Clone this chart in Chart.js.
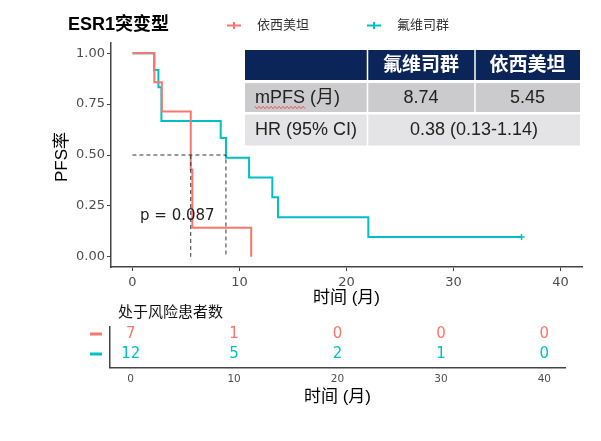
<!DOCTYPE html>
<html>
<head>
<meta charset="utf-8">
<script src="https://cdn.jsdelivr.net/npm/chart.js@4.4.1/dist/chart.umd.min.js"></script>
<style>
  html, body { margin: 0; padding: 0; background: #fff; }
  #wrap { position: relative; width: 601px; height: 441px; }
  canvas { position: absolute; left: 0; top: 0; }
</style>
</head>
<body>
<div id="wrap">
  <canvas id="km" width="601" height="441"></canvas>
  <canvas id="risk" width="601" height="441"></canvas>
</div>
<script>
// KM curves (time in months, survival probability)
const redTime = [0, 2.05, 2.75, 5.45, 5.6, 11.1];
const redSurv = [1, 0.857, 0.714, 0.429, 0.143, 0];
const cyanTime = [0, 2.03, 2.43, 2.71, 8.25, 8.74, 10.9, 13.07, 13.6, 22.04, 36.35];
const cyanSurv = [1, 0.917, 0.833, 0.667, 0.583, 0.486, 0.389, 0.292, 0.194, 0.097, 0.097];
const cyanCensorTime = [36.35];
const cyanCensorSurv = [0.097];
const medianTimes = [5.45, 8.74];
const xTicks = [0, 10, 20, 30, 40];
const yTicks = [0, 0.25, 0.5, 0.75, 1];

// number at risk
const riskTimes = [0, 10, 20, 30, 40];
const riskRed = [7, 1, 0, 0, 0];
const riskCyan = [12, 5, 2, 1, 0];

const RED = "#F8766D";
const CYAN = "#00BFC4";
const AXIS = "#444444";
const CJK = '"Liberation Sans", "Noto Sans CJK SC", sans-serif';

function pts(xs, ys) {
  return xs.map((x, i) => ({ x: x, y: ys[i] }));
}

function txt(ctx, s, x, y, font, color, align) {
  ctx.save();
  ctx.font = font;
  ctx.fillStyle = color;
  ctx.textAlign = align || "left";
  ctx.textBaseline = "middle";
  ctx.fillText(s, x, y);
  ctx.restore();
}

// median reference lines: horizontal at 0.5, then drops at each median
const medianLine = [{ x: 0, y: 0.5 }, { x: medianTimes[1], y: 0.5 }, { x: medianTimes[1], y: 0 },
  { x: medianTimes[1], y: null }, { x: medianTimes[0], y: 0.5 }, { x: medianTimes[0], y: 0 }];

const kmDecor = {
  id: "kmDecor",
  afterDraw(chart) {
    const ctx = chart.ctx;
    const xs = chart.scales.x, ys = chart.scales.y;

    // title + legend
    txt(ctx, "ESR1突变型", 68, 25, "bold 18px " + CJK, "#000");
    [[RED, 227, "依西美坦"], [CYAN, 367, "氟维司群"]].forEach(([c, lx, label]) => {
      ctx.save();
      ctx.strokeStyle = c;
      ctx.lineWidth = 2;
      ctx.beginPath();
      ctx.moveTo(lx, 25.5); ctx.lineTo(lx + 14, 25.5);
      ctx.moveTo(lx + 7, 22); ctx.lineTo(lx + 7, 29);
      ctx.stroke();
      ctx.restore();
      txt(ctx, label, lx + 30, 25.5, "13px " + CJK, "#333");
    });

    // axis titles
    txt(ctx, "时间 (月)", (chart.chartArea.left + chart.chartArea.right) / 2, 298, "17px " + CJK, "#000", "center");
    ctx.save();
    ctx.translate(62, 157);
    ctx.rotate(-Math.PI / 2);
    txt(ctx, "PFS率", 0, 0, "17px " + CJK, "#000", "center");
    ctx.restore();

    // p value
    txt(ctx, "p = 0.087", xs.getPixelForValue(4.2), ys.getPixelForValue(0.2), "15px 'DejaVu Sans'", "#222", "center");

    // summary table
    ctx.save();
    ctx.fillStyle = "#0B2559";
    ctx.fillRect(245, 50, 335, 30);
    ctx.fillStyle = "#CBCBCD";
    ctx.fillRect(245, 83, 335, 29);
    ctx.fillStyle = "#E4E4E6";
    ctx.fillRect(245, 114.5, 335, 31);
    ctx.strokeStyle = "#fff";
    ctx.lineWidth = 1.5;
    ctx.beginPath();
    ctx.moveTo(367.5, 50); ctx.lineTo(367.5, 146);
    ctx.moveTo(475, 50); ctx.lineTo(475, 112);
    ctx.stroke();
    ctx.restore();
    txt(ctx, "氟维司群", 421, 66, "bold 19px " + CJK, "#fff", "center");
    txt(ctx, "依西美坦", 527.5, 66, "bold 19px " + CJK, "#fff", "center");
    txt(ctx, "mPFS (月)", 255, 98, "18px " + CJK, "#222");
    txt(ctx, "8.74", 421, 98, "18px " + CJK, "#222", "center");
    txt(ctx, "5.45", 527.5, 98, "18px " + CJK, "#222", "center");
    txt(ctx, "HR (95% CI)", 255, 130, "18px " + CJK, "#222");
    txt(ctx, "0.38 (0.13-1.14)", 474, 130, "18px " + CJK, "#222", "center");
    // spellcheck squiggle under mPFS
    ctx.save();
    ctx.strokeStyle = "#e23b3b";
    ctx.lineWidth = 0.8;
    ctx.beginPath();
    for (let x = 255, k = 0; x <= 305; x += 2, k++) {
      const y = 107.5 + (k % 2 ? 1.2 : -1.2);
      if (k === 0) ctx.moveTo(x, y); else ctx.lineTo(x, y);
    }
    ctx.stroke();
    ctx.restore();
  }
};

new Chart(document.getElementById("km"), {
  type: "line",
  data: {
    datasets: [
      {
        label: "median",
        data: medianLine,
        borderColor: "#333",
        borderWidth: 1,
        borderDash: [4, 3],
        pointRadius: 0,
        spanGaps: false,
      },
      {
        label: "依西美坦",
        data: pts(redTime, redSurv),
        stepped: "before",
        borderColor: RED,
        borderWidth: 2,
        pointRadius: 0,
      },
      {
        label: "氟维司群",
        data: pts(cyanTime, cyanSurv),
        stepped: "before",
        borderColor: CYAN,
        borderWidth: 2,
        pointRadius: 0,
      },
      {
        label: "censor",
        data: pts(cyanCensorTime, cyanCensorSurv),
        showLine: false,
        pointStyle: "cross",
        pointRadius: 3,
        borderColor: CYAN,
        borderWidth: 1.5,
      },
    ],
  },
  options: {
    responsive: false,
    animation: false,
    layout: { padding: { left: 0, right: 19, top: 43, bottom: 0 } },
    plugins: { legend: { display: false }, tooltip: { enabled: false } },
    scales: {
      x: {
        type: "linear",
        min: -2,
        max: 42,
        afterBuildTicks: (s) => { s.ticks = xTicks.map((v) => ({ value: v })); },
        afterFit: (s) => { s.height = 174; },
        ticks: { color: "#4d4d4d", font: { family: "DejaVu Sans", size: 13 }, padding: 4, maxRotation: 0 },
        grid: { drawOnChartArea: false, tickLength: 4, tickColor: AXIS, tickWidth: 1 },
        border: { color: AXIS, width: 1.5 },
      },
      y: {
        type: "linear",
        min: -0.05,
        max: 1.05,
        afterBuildTicks: (s) => { s.ticks = yTicks.map((v) => ({ value: v })); },
        afterFit: (s) => { s.width = 111; },
        ticks: { color: "#4d4d4d", font: { family: "DejaVu Sans", size: 13 }, padding: 2, callback: (v) => v.toFixed(2) },
        grid: { drawOnChartArea: false, tickLength: 4, tickColor: AXIS, tickWidth: 1 },
        border: { color: AXIS, width: 1.5 },
      },
    },
  },
  plugins: [kmDecor],
});

// risk table
const riskDecor = {
  id: "riskDecor",
  afterDraw(chart) {
    const ctx = chart.ctx;
    const xs = chart.scales.x, ys = chart.scales.y;
    txt(ctx, "处于风险患者数", 118, 313, "15px " + CJK, "#111");
    chart.data.datasets.forEach((ds, di) => {
      const counts = di === 0 ? riskRed : riskCyan;
      const py = ys.getPixelForValue(ds.data[0].y);
      ds.data.forEach((p, i) => {
        txt(ctx, String(counts[i]), xs.getPixelForValue(p.x), py, "15px 'DejaVu Sans'", ds.borderColor, "center");
      });
      ctx.save();
      ctx.strokeStyle = ds.borderColor;
      ctx.lineWidth = 3;
      ctx.beginPath();
      ctx.moveTo(90, py); ctx.lineTo(102, py);
      ctx.stroke();
      ctx.restore();
    });
    txt(ctx, "时间 (月)", (chart.chartArea.left + chart.chartArea.right) / 2, 397, "17px " + CJK, "#000", "center");
  }
};

new Chart(document.getElementById("risk"), {
  type: "scatter",
  data: {
    datasets: [
      { label: "依西美坦", data: riskTimes.map((t) => ({ x: t, y: 2 })), borderColor: RED, pointRadius: 0 },
      { label: "氟维司群", data: riskTimes.map((t) => ({ x: t, y: 1 })), borderColor: CYAN, pointRadius: 0 },
    ],
  },
  options: {
    responsive: false,
    animation: false,
    layout: { padding: { left: 0, right: 36, top: 326.7, bottom: 0 } },
    plugins: { legend: { display: false }, tooltip: { enabled: false } },
    scales: {
      x: {
        type: "linear",
        min: -2,
        max: 42,
        afterBuildTicks: (s) => { s.ticks = riskTimes.map((v) => ({ value: v })); },
        afterFit: (s) => { s.height = 73.3; },
        ticks: { color: "#4d4d4d", font: { family: "DejaVu Sans", size: 10.5 }, padding: 2, maxRotation: 0 },
        grid: { drawOnChartArea: false, tickLength: 3, tickColor: "rgba(0,0,0,0)" },
        border: { color: AXIS, width: 1.5 },
      },
      y: {
        type: "linear",
        min: 0.315,
        max: 2.365,
        afterFit: (s) => { s.width = 110; },
        ticks: { display: false },
        grid: { display: false },
        border: { color: AXIS, width: 1.5 },
      },
    },
  },
  plugins: [riskDecor],
});
</script>
</body>
</html>
